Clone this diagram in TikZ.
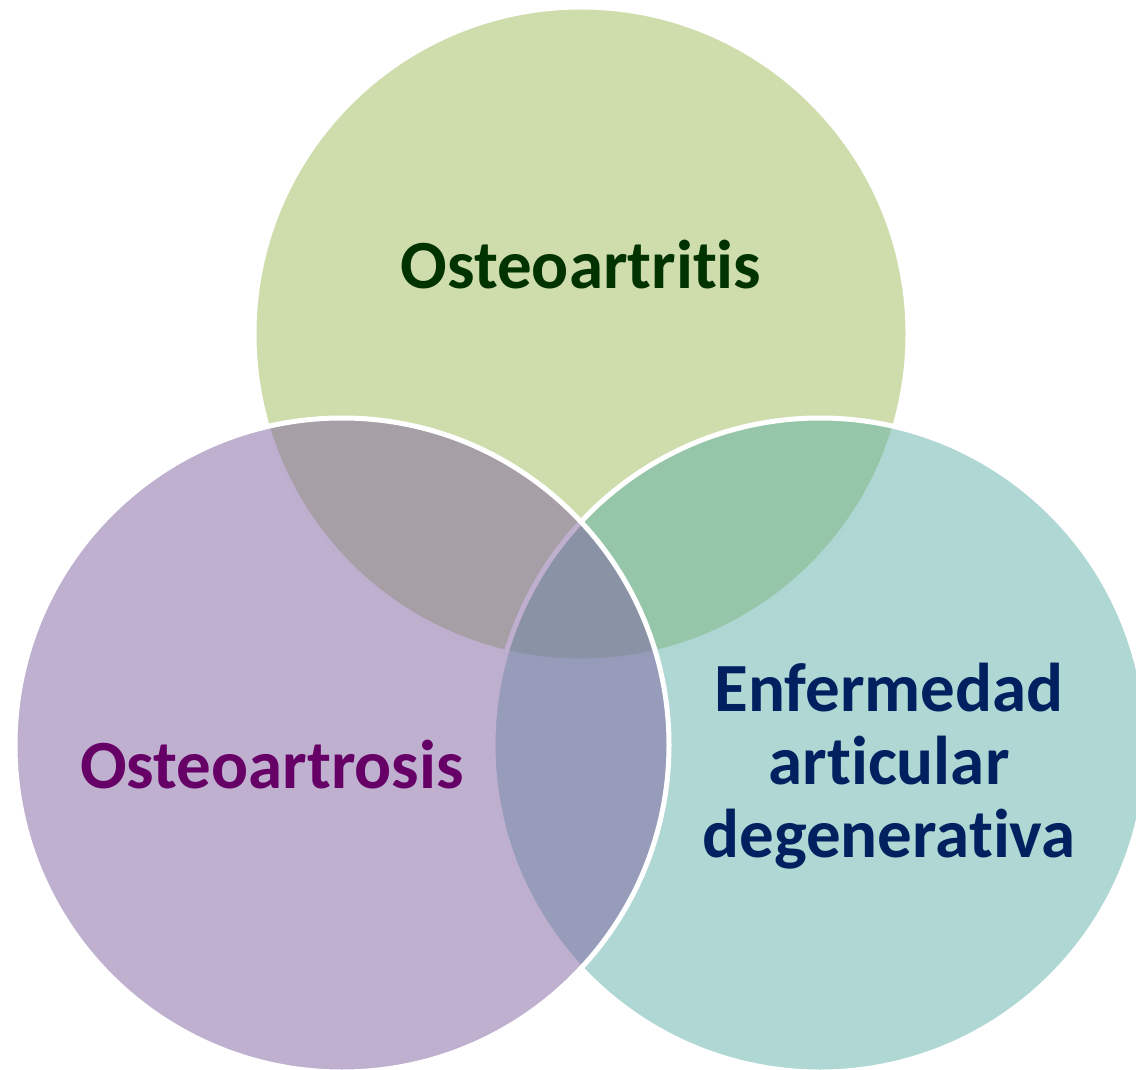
\documentclass[tikz,border=0pt]{standalone}
\usepackage{fontspec}
\setmainfont{Carlito}[Ligatures=NoCommon, RawFeature={-liga;-clig;-dlig}]
\definecolor{cgreen}{RGB}{159,187,91}
\definecolor{cteal}{RGB}{95,175,167}
\definecolor{cpurple}{RGB}{127,97,161}
\definecolor{tgreen}{RGB}{0,51,0}
\definecolor{tpurple}{RGB}{102,0,102}
\definecolor{tnavy}{RGB}{0,32,96}
\tikzset{
  venn/.style={fill opacity=0.5, draw=white, draw opacity=1, line width=5pt},
  lbl/.style={inner sep=0pt, font=\fontsize{69}{73}\selectfont\bfseries, align=center}
}
\begin{document}
\begin{tikzpicture}[x=1pt,y=-1pt]
\useasboundingbox (0,0) rectangle (1136,1070);
\coordinate (ctop) at (581,334);
\coordinate (cleft) at (342,745);
\coordinate (cright) at (820,745);
\path[venn, fill=cgreen] (ctop) circle[radius=327];
\path[venn, fill=cteal] (cright) circle[radius=327];
\path[venn, fill=cpurple] (cleft) circle[radius=327];
\node[lbl, text=tgreen, anchor=base] (t1) at (581,288) {Osteoartritis};
\node[lbl, text=tpurple, anchor=base] (t2) at (272,788) {Osteoartrosis};
\node[lbl, text=tnavy, anchor=center] (t3) at (889,766) {Enfermedad\\articular\\degenerativa};
\end{tikzpicture}
\end{document}
